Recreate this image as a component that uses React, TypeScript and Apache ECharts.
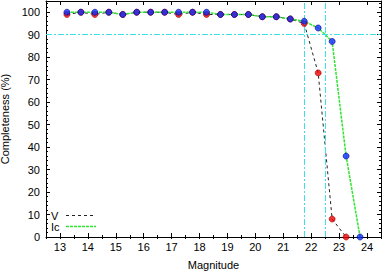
import React, { useEffect, useRef } from "react";
import * as echarts from "echarts";

const magnitudes = [13.25, 13.75, 14.25, 14.75, 15.25, 15.75, 16.25, 16.75, 17.25, 17.75, 18.25, 18.75, 19.25, 19.75, 20.25, 20.75, 21.25, 21.75, 22.25, 22.75, 23.25, 23.75];
const vCompleteness = [99, 100, 99, 100, 99, 100, 100, 100, 99, 100, 99, 99, 99, 99, 98, 98, 97, 95, 73, 8, 0];
const icCompleteness = [100, 100, 100, 100, 99, 100, 100, 100, 100, 100, 100, 99, 99, 99, 98, 98, 97, 96, 93, 87, 36, 0];
const vLimit = 21.75;
const icLimit = 22.5;
const completenessLevel = 90;
const seriesNames = ["V", "Ic"];

const FONT = "'Liberation Sans', Arial, sans-serif";

export default function App() {
  const ref = useRef<HTMLDivElement>(null);
  useEffect(() => {
    if (!ref.current) return;
    const chart = echarts.init(ref.current, null, { renderer: "svg" });
    const vData = vCompleteness.map((v, i) => [magnitudes[i], v]);
    const icData = icCompleteness.map((v, i) => [magnitudes[i], v]);
    const black = "#000";
    const xMajor = (pos: "bottom" | "top", labels: boolean) => ({
      type: "value",
      position: pos,
      min: 12.5,
      max: 24.5,
      splitNumber: 12,
      axisLine: { show: true, onZero: false, lineStyle: { color: black, width: 1 } },
      axisTick: { show: true, inside: true, length: 4, lineStyle: { color: black } },
      axisLabel: {
        show: labels,
        margin: 4,
        fontSize: 11,
        fontFamily: FONT,
        color: black,
        formatter: (v: number) => (Number.isInteger(v) ? String(v) : ""),
      },
      splitLine: { show: false },
      ...(labels
        ? {
            name: "Magnitude",
            nameLocation: "middle",
            nameGap: 22,
            nameTextStyle: { fontSize: 11, fontFamily: FONT, color: black },
          }
        : {}),
    });
    const xMinor = (pos: "bottom" | "top") => ({
      type: "value",
      position: pos,
      min: 12.5,
      max: 24.5,
      interval: 0.5,
      axisLine: { show: false },
      axisTick: { show: true, inside: true, length: 2, lineStyle: { color: black } },
      axisLabel: { show: false },
      splitLine: { show: false },
    });
    const yMajor = (pos: "left" | "right", labels: boolean) => ({
      type: "value",
      position: pos,
      min: 0,
      max: 105,
      interval: 10,
      axisLine: { show: true, onZero: false, lineStyle: { color: black, width: 1 } },
      axisTick: { show: true, inside: true, length: 4, lineStyle: { color: black } },
      axisLabel: {
        show: labels,
        margin: 6,
        fontSize: 11,
        fontFamily: FONT,
        color: black,
        formatter: (v: number) => (v <= 100 ? String(v) : ""),
      },
      splitLine: { show: false },
      ...(labels
        ? {
            name: "Completeness (%)",
            nameLocation: "middle",
            nameGap: 32,
            nameTextStyle: { fontSize: 11, fontFamily: FONT, color: black },
          }
        : {}),
    });
    const yMinor = (pos: "left" | "right") => ({
      type: "value",
      position: pos,
      min: 0,
      max: 105,
      interval: 2,
      axisLine: { show: false },
      axisTick: { show: true, inside: true, length: 2, lineStyle: { color: black } },
      axisLabel: { show: false },
      splitLine: { show: false },
    });
    const cyan = "#40e0e8";
    const green = "#2ee62e";
    chart.setOption({
      animation: false,
      backgroundColor: "#fff",
      grid: { left: 46, right: 1, top: 1, bottom: 35, containLabel: false, outerBoundsMode: "none" },
      xAxis: [xMajor("bottom", true), xMinor("bottom"), xMajor("top", false), xMinor("top")],
      yAxis: [yMajor("left", true), yMinor("left"), yMajor("right", false), yMinor("right")],
      series: [
        {
          name: seriesNames[0],
          type: "line",
          data: vData,
          symbol: "none",
          lineStyle: { color: "#222", width: 1, type: [3, 3] },
          z: 2,
          markLine: {
            silent: true,
            symbol: ["none", "none"],
            label: { show: false },
            lineStyle: { color: cyan, width: 1, type: [6, 2, 2, 2], opacity: 1 },
            data: [{ xAxis: vLimit }, { xAxis: icLimit }, { yAxis: completenessLevel }],
          },
        },
        {
          name: seriesNames[1],
          type: "line",
          data: icData,
          symbol: "none",
          lineStyle: { color: green, width: 1.5, type: [3, 1] },
          z: 3,
        },
        {
          name: seriesNames[0] + " points",
          type: "scatter",
          data: vData,
          symbol: "circle",
          symbolSize: 6,
          itemStyle: { color: "#f00000", borderColor: "#a00000", borderWidth: 0.8 },
          z: 4,
        },
        {
          name: seriesNames[1] + " points",
          type: "scatter",
          data: icData,
          symbol: "circle",
          symbolSize: 6,
          itemStyle: { color: "#1030ff", borderColor: "#000090", borderWidth: 0.8 },
          z: 5,
        },
      ],
      graphic: [
        {
          type: "text",
          x: 51,
          y: 215.5,
          z: 100,
          style: {
            text: seriesNames[0],
            fontSize: 11,
            lineHeight: 11,
            fontFamily: FONT,
            fill: black,
            verticalAlign: "middle",
          },
        },
        {
          type: "line",
          z: 100,
          shape: { x1: 66, y1: 215.5, x2: 96, y2: 215.5 },
          style: { stroke: "#222", lineWidth: 1, lineDash: [3, 3] },
        },
        {
          type: "text",
          x: 51,
          y: 227,
          z: 100,
          style: {
            text: seriesNames[1],
            fontSize: 11,
            lineHeight: 11,
            fontFamily: FONT,
            fill: black,
            verticalAlign: "middle",
          },
        },
        {
          type: "line",
          z: 100,
          shape: { x1: 66, y1: 226.5, x2: 96, y2: 226.5 },
          style: { stroke: green, lineWidth: 1.5, lineDash: [3, 1] },
        },
      ],
    });
    return () => chart.dispose();
  }, []);
  return (
    <div
      ref={ref}
      style={{ position: "absolute", left: 0, top: 0, width: 382, height: 272 }}
    />
  );
}
